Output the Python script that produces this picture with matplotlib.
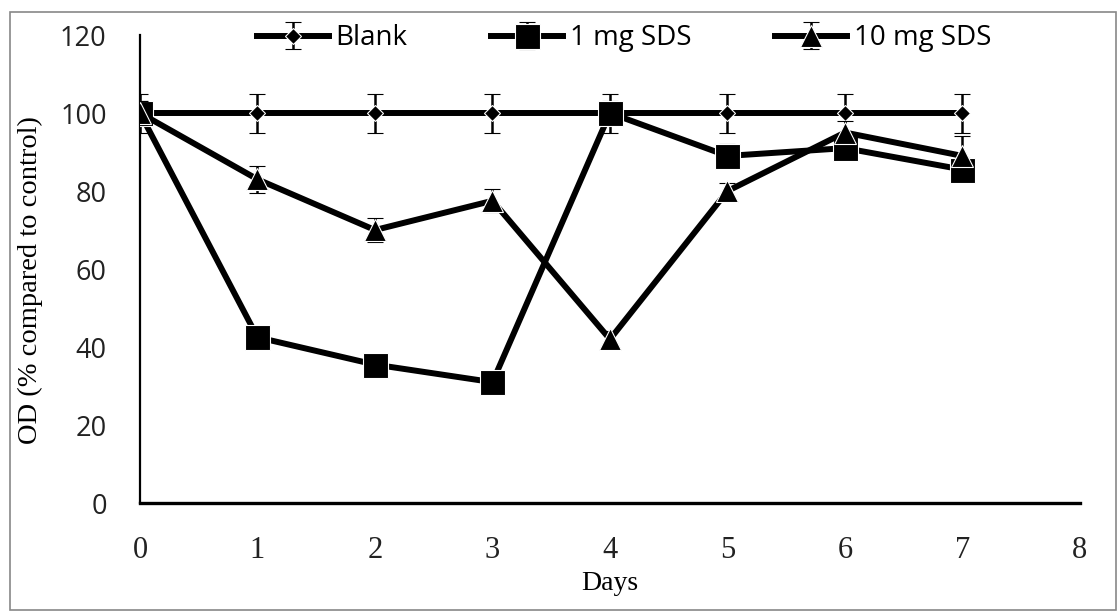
import matplotlib
matplotlib.use("Agg")
import matplotlib.pyplot as plt
from matplotlib.patches import Rectangle

days = [0, 1, 2, 3, 4, 5, 6, 7]
blank = [100, 100, 100, 100, 100, 100, 100, 100]
blank_err = [5, 5, 5, 5, 5, 5, 5, 5]
sds1 = [100, 42.5, 35.5, 31, 100, 89, 91, 85.5]
sds1_err = [3, 1.5, 1.5, 1.5, 3, 3, 3, 3]
sds10 = [100, 83, 70, 77.5, 42, 80, 95, 89]
sds10_err = [3, 3.5, 3, 3, 2, 2, 3, 5]
series_names = ["Blank", "1 mg SDS", "10 mg SDS"]
xticks = [0, 1, 2, 3, 4, 5, 6, 7, 8]
yticks = [0, 20, 40, 60, 80, 100, 120]

fig = plt.figure(figsize=(11.19, 6.12), dpi=100)
ax = fig.add_axes([0.1251, 0.178, 0.8400, 0.7648])

lw = 4.3
common = dict(color="black", lw=lw, capsize=5.5, elinewidth=1.8, capthick=2,
              markeredgecolor="white", markeredgewidth=0.8)
ax.errorbar(days, blank, yerr=blank_err, marker="D", ms=8,
            label=series_names[0], zorder=3, **common)
ax.errorbar(days, sds1, yerr=sds1_err, marker="s", ms=18,
            label=series_names[1], zorder=4, **common)
ax.errorbar(days, sds10, yerr=sds10_err, marker="^", ms=16,
            label=series_names[2], zorder=5, **common)

ax.set_xlim(0, 8)
ax.set_ylim(0, 120)
ax.set_xticks(xticks)
ax.set_yticks(yticks)
for s in ["top", "right"]:
    ax.spines[s].set_visible(False)
ax.spines["left"].set_linewidth(1.6)
ax.spines["bottom"].set_linewidth(2.4)
ax.tick_params(length=0)
ax.tick_params(axis="y", pad=24)
ax.tick_params(axis="x", pad=24)
for lab in ax.get_yticklabels():
    lab.set_fontfamily("Open Sans")
    lab.set_fontsize(19.5)
    lab.set_color("#222222")
for lab in ax.get_xticklabels():
    lab.set_fontfamily("Liberation Serif")
    lab.set_fontsize(22)
    lab.set_color("#222222")

ax.set_xlabel("Days", family="Liberation Serif", fontsize=20, labelpad=4)
ax.set_ylabel("OD (% compared to control)", family="Liberation Serif", fontsize=20.5)
ax.yaxis.set_label_coords(-0.103, 0.476)

leg = ax.legend(loc="center", bbox_to_anchor=(0.515, 0.993), ncol=3, frameon=False,
                prop={"family": "Open Sans", "size": 20}, handlelength=2.6,
                columnspacing=3.0, handletextpad=0.25)

fig.patches.append(Rectangle((0.009, 0.003), 0.988, 0.978, transform=fig.transFigure,
                             fill=False, edgecolor="#888888", lw=1.2))

fig.savefig("out.png", dpi=100)
